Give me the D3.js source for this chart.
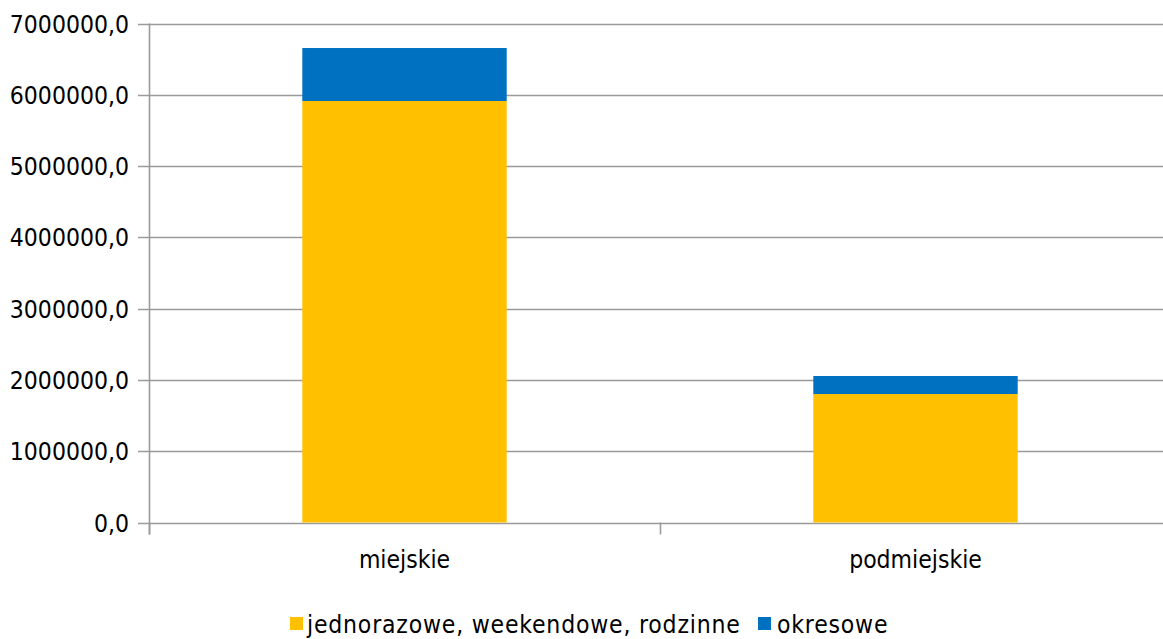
<!DOCTYPE html>
<html>
<head>
<meta charset="utf-8">
<script src="https://cdn.jsdelivr.net/npm/d3@7"></script>
<style>
  html, body { margin: 0; padding: 0; background: #fff; }
  svg { display: block; font-family: "DejaVu Sans Condensed", "DejaVu Sans", sans-serif; font-stretch: condensed; }
</style>
</head>
<body>
<svg id="chart" width="1163" height="639"></svg>
<script>
// Ticket sales by line type, stacked by ticket kind
const categories = ["miejskie", "podmiejskie"];
const seriesNames = ["jednorazowe, weekendowe, rodzinne", "okresowe"];
const jednorazowe = [5913000, 1802000];
const okresowe = [743000, 253000];
const yTicks = [0, 1000000, 2000000, 3000000, 4000000, 5000000, 6000000, 7000000];
const colors = ["#FFC000", "#0070C0"];

const svg = d3.select("#chart");
const margin = { left: 149, right: -8, top: 23.5, bottom: 116.5 };
const W = 1163, H = 639;
const x0 = margin.left, x1 = W - margin.right;
const yBottom = H - margin.bottom, yTop = margin.top;
const fontSize = 24.5;

const x = d3.scaleBand().domain(categories).range([x0, x1]).paddingInner(0).paddingOuter(0);
const y = d3.scaleLinear().domain([0, 7000000]).range([yBottom, yTop]);

const rows = categories.map((c, i) => ({ cat: c, s0: jednorazowe[i], s1: okresowe[i] }));
const stacked = d3.stack().keys(["s0", "s1"])(rows);

// Gridlines
svg.append("g")
  .selectAll("line")
  .data(yTicks)
  .join("line")
  .attr("x1", x0 - 11).attr("x2", x1)
  .attr("y1", d => Math.round(y(d)) + 0.5).attr("y2", d => Math.round(y(d)) + 0.5)
  .attr("stroke", "#9a9a9a").attr("stroke-width", 1.6);

// Y axis labels
svg.append("g")
  .selectAll("text")
  .data(yTicks)
  .join("text")
  .attr("x", 129)
  .attr("y", d => y(d) + 9)
  .attr("text-anchor", "end")
  .attr("font-size", fontSize)
  .attr("fill", "#000")
  .text(d => d3.format("d")(d) + ",0");

// Bars
const barW = x.bandwidth() * 0.4;
svg.append("g")
  .selectAll("g")
  .data(stacked)
  .join("g")
  .attr("fill", (d, i) => colors[i])
  .selectAll("rect")
  .data(d => d)
  .join("rect")
  .attr("x", d => x(d.data.cat) + (x.bandwidth() - barW) / 2)
  .attr("width", barW)
  .attr("y", d => y(d[1]))
  .attr("height", d => y(d[0]) - y(d[1]));

// Y axis line
svg.append("line")
  .attr("x1", x0 + 0.5).attr("x2", x0 + 0.5)
  .attr("y1", yTop).attr("y2", yBottom + 12)
  .attr("stroke", "#9a9a9a").attr("stroke-width", 1.6);

// Category ticks
const catTicks = [x0, x0 + x.bandwidth(), x1];
svg.append("g")
  .selectAll("line")
  .data(catTicks)
  .join("line")
  .attr("x1", d => d + 0.5).attr("x2", d => d + 0.5)
  .attr("y1", yBottom).attr("y2", yBottom + 12)
  .attr("stroke", "#9a9a9a").attr("stroke-width", 1.6);

// Category labels
svg.append("g")
  .selectAll("text")
  .data(categories)
  .join("text")
  .attr("x", d => x(d) + x.bandwidth() / 2)
  .attr("y", 568)
  .attr("text-anchor", "middle")
  .attr("font-size", fontSize)
  .attr("fill", "#000")
  .text(d => d);

// Legend
const legend = svg.append("g");
const legendItems = [
  { name: seriesNames[0], color: colors[0], sx: 290, tx: 307 },
  { name: seriesNames[1], color: colors[1], sx: 758, tx: 777 }
];
legendItems.forEach(it => {
  legend.append("rect").attr("x", it.sx).attr("y", 617).attr("width", 13).attr("height", 13).attr("fill", it.color);
  legend.append("text").attr("x", it.tx).attr("y", 633).attr("font-size", fontSize)
    .attr("letter-spacing", 0.8).attr("fill", "#000").text(it.name);
});
</script>
</body>
</html>
